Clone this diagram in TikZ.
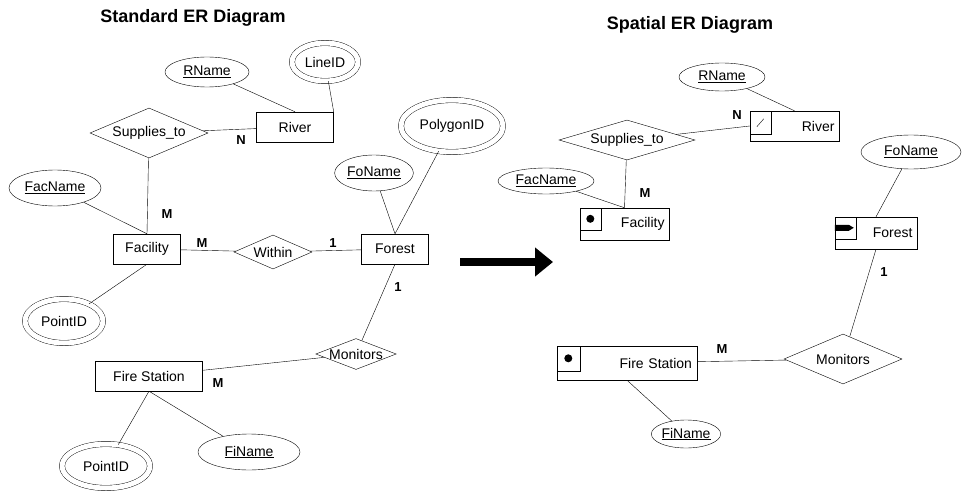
\documentclass[tikz,border=0pt]{standalone}
\usepackage{fontspec}
\setmainfont{Liberation Sans}
\usetikzlibrary{shapes.geometric,arrows.meta,calc}
\begin{document}
\begin{tikzpicture}[x=1pt,y=-1pt,
  every node/.style={font=\fontsize{14}{16}\selectfont},
  ent/.style={draw,rectangle,minimum height=30pt,inner sep=2pt},
  att/.style={draw,ellipse,inner sep=1pt},
  datt/.style={draw,ellipse,double,double distance=5pt,inner sep=0pt},
  rel/.style={draw,diamond,aspect=2.6,inner sep=0pt},
  card/.style={font=\fontsize{13}{15}\selectfont\bfseries,inner sep=0pt},
  ttl/.style={font=\fontsize{18}{20}\selectfont\bfseries}]
\useasboundingbox (0,0) rectangle (973,497);
% ---------- left ----------
\node[ttl] (t1) at (193,18) {Standard ER Diagram};
\node[att,minimum width=84pt,minimum height=30pt] (rn1) at (207,72) {\underline{RName}};
\node[datt,minimum width=66pt,minimum height=38pt] (lid) at (325,62) {LineID};
\node[ent,minimum width=77pt] (riv1) at (295,127) {River};
\node[rel,minimum width=118pt,minimum height=50pt] (sup1) at (149,133) {Supplies\_to};
\node[att,minimum width=92pt,minimum height=36pt] (fn1) at (55,188) {\underline{FacName}};
\node[ent,minimum width=67pt] (fac1) at (147,249) {Facility};
\node[rel,minimum width=78pt,minimum height=34pt] (win) at (273,252) {Within};
\node[ent,minimum width=67pt] (for1) at (395,249) {Forest};
\node[att,minimum width=74pt,minimum height=36pt] (fo1) at (374,173) {\underline{FoName}};
\node[datt,minimum width=102pt,minimum height=52pt] (pid) at (452,126) {PolygonID};
\node[datt,minimum width=78pt,minimum height=44pt] (pt1) at (64,321) {PointID};
\node[rel,minimum width=78pt,minimum height=30pt] (mon1) at (356,354) {Monitors};
\node[ent,minimum width=107pt] (fs1) at (149,376) {Fire Station};
\node[datt,minimum width=88pt,minimum height=44pt] (pt2) at (106,466) {PointID};
\node[att,minimum width=102pt,minimum height=36pt] (fi1) at (249,452) {\underline{FiName}};
\draw (rn1)--(riv1.north) (lid)--(riv1.north east) (sup1)--(riv1) (sup1)--(fac1.north)
 (fn1)--(fac1.north) (fac1)--(win) (win)--(for1) (fo1)--(for1.north) (pid)--(for1.north)
 (pt1)--(fac1.south) (for1.south)--(mon1) (mon1)--(fs1) (fs1.south)--(pt2) (fs1.south)--(fi1);
\node[card] (c1) at (241,140) {N};
\node[card] (c2) at (167,214) {M};
\node[card] (c3) at (202,243) {M};
\node[card] (c4) at (333,243) {1};
\node[card] (c5) at (398,287) {1};
\node[card] (c6) at (218,383) {M};
% arrow
\coordinate (a1) at (460,262); \coordinate (a2) at (553,262);
\draw[line width=8pt,-{Triangle[length=18pt,width=28pt]}] (a1)--(a2);
% ---------- right ----------
\node[ttl] (t2) at (690,25) {Spatial ER Diagram};
\node[att,minimum width=86pt,minimum height=28pt] (rn2) at (722,77) {\underline{RName}};
\node[ent,minimum width=89pt,text width=80pt,align=right] (riv2) at (794.5,126) {River};
\draw (riv2.north west) rectangle ++(21,23);
\draw ($(riv2.north west)+(7,16)$) -- ++(7,-8);
\node[rel,minimum width=136pt,minimum height=40pt,aspect=3.4] (sup2) at (627,140) {Supplies\_to};
\node[att,minimum width=96pt,minimum height=26pt] (fn2) at (546,181) {\underline{FacName}};
\node[ent,minimum width=89pt,minimum height=32pt,text width=80pt,align=right] (fac2) at (624.5,224) {Facility};
\draw (fac2.north west) rectangle ++(21,22);
\fill ($(fac2.north west)+(10.5,11)$) circle (4pt);
\node[ent,minimum width=82pt,minimum height=32pt,text width=73pt,align=right] (for2) at (876,233) {Forest};
\draw (for2.north west) rectangle ++(21,22);
\fill ($(for2.north west)+(0,8)$) -- ++(14,0) -- ++(5,3) -- ++(-5,3) -- ++(-14,0) -- cycle;
\node[att,minimum width=100pt,minimum height=34pt] (fo2) at (911,152) {\underline{FoName}};
\node[rel,minimum width=118pt,minimum height=50pt] (mon2) at (843,359) {Monitors};
\node[ent,minimum width=140pt,minimum height=34pt,text width=130pt,align=right] (fs2) at (627,363) {Fire Station};
\draw (fs2.north west) rectangle ++(23,25);
\fill ($(fs2.north west)+(11.5,12.5)$) circle (4pt);
\node[att,minimum width=60pt,minimum height=28pt,inner sep=0pt] (fi2) at (686,434) {\underline{FiName}};
\draw (rn2)--(riv2.north) (sup2)--(riv2.west) (sup2)--(fac2.north) (fn2)--(fac2.north)
 (fo2)--(for2.north) (for2.south)--(mon2) (mon2)--(fs2) (fs2.south)--(fi2);
\node[card] (d1) at (737,115) {N};
\node[card] (d2) at (645,193) {M};
\node[card] (d3) at (884,272) {1};
\node[card] (d4) at (722,349) {M};
\end{tikzpicture}
\end{document}
